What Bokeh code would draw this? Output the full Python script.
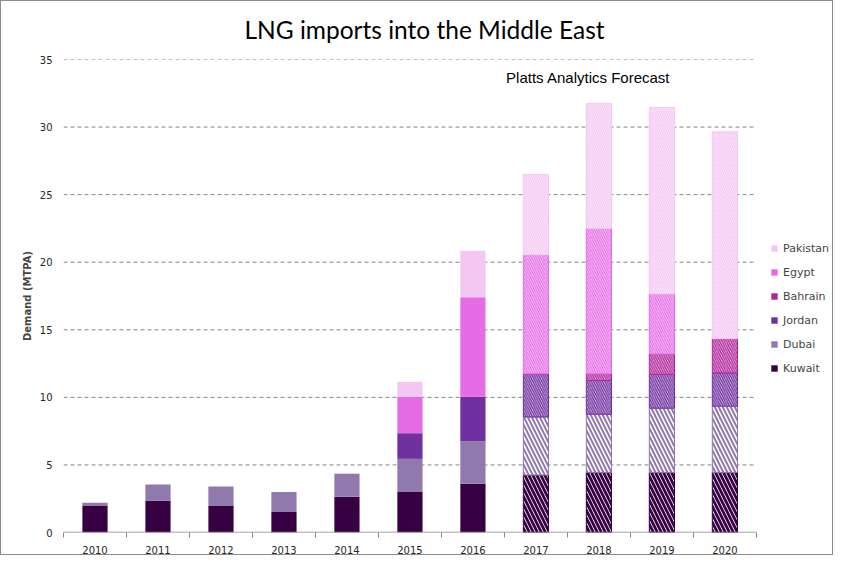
from bokeh.plotting import figure
from bokeh.models import Range1d, FixedTicker, Legend, LegendItem, Label, ColumnDataSource
from bokeh.embed import file_html
from bokeh.resources import INLINE

# ---- data ----
series = ["Kuwait", "Dubai", "Jordan", "Bahrain", "Egypt", "Pakistan"]
colors = ["#360042", "#8f79ad", "#7030a0", "#b2259b", "#e66ce6", "#f4c7f2"]

years_hist = [2010, 2011, 2012, 2013, 2014, 2015, 2016]
kuwait_hist = [2.0, 2.35, 2.0, 1.55, 2.65, 3.0, 3.6]
dubai_hist = [0.2, 1.2, 1.4, 1.45, 1.7, 2.45, 3.15]
jordan_hist = [0, 0, 0, 0, 0, 1.9, 3.3]
bahrain_hist = [0, 0, 0, 0, 0, 0, 0]
egypt_hist = [0, 0, 0, 0, 0, 2.7, 7.35]
pakistan_hist = [0, 0, 0, 0, 0, 1.1, 3.45]

years_fc = [2017, 2018, 2019, 2020]
kuwait_fc = [4.25, 4.45, 4.45, 4.45]
dubai_fc = [4.3, 4.3, 4.75, 4.9]
jordan_fc = [3.2, 2.5, 2.5, 2.45]
bahrain_fc = [0, 0.5, 1.5, 2.55]
egypt_fc = [8.8, 10.75, 4.45, 0]
pakistan_fc = [5.95, 9.25, 13.8, 15.3]

all_years = years_hist + years_fc
y_ticks = [0, 5, 10, 15, 20, 25, 30, 35]

src_hist = ColumnDataSource(dict(year=years_hist, Kuwait=kuwait_hist, Dubai=dubai_hist,
                                 Jordan=jordan_hist, Bahrain=bahrain_hist,
                                 Egypt=egypt_hist, Pakistan=pakistan_hist))
src_fc = ColumnDataSource(dict(year=years_fc, Kuwait=kuwait_fc, Dubai=dubai_fc,
                               Jordan=jordan_fc, Bahrain=bahrain_fc,
                               Egypt=egypt_fc, Pakistan=pakistan_fc))

x_lo = all_years[0] - 0.5
x_hi = all_years[-1] + 0.5

p = figure(width=833, height=555, output_backend="svg", toolbar_location=None,
           x_range=Range1d(x_lo, x_hi + 1.24),
           y_range=Range1d(0, 35),
           min_border_left=62, min_border_right=0, min_border_top=13, min_border_bottom=22)
p.outline_line_color = None
p.styles = {"border": "1px solid #8c8c8c"}

p.title.text = "LNG imports into the Middle East"
p.title.text_font = "Lato"
p.title.text_font_size = "24.5px"
p.title.text_font_style = "normal"
p.title.text_color = "#000000"
p.title.align = "left"
p.title.vertical_align = "top"
p.title.offset = 181
p.title.standoff = 27

# grid lines limited to the category area
p.segment(x0=x_lo, x1=x_hi, y0=y_ticks[1:], y1=y_ticks[1:],
          line_color="#868686", line_dash="4 3", line_width=1)

hist_r = p.vbar_stack(series, x="year", width=0.4, source=src_hist,
                      color=colors, line_color=None)

fc_r = p.vbar_stack(series, x="year", width=0.4, source=src_fc,
                    fill_color="white", line_color=colors, line_width=1,
                    hatch_color=colors, hatch_pattern="\\",
                    hatch_scale=[8, 8, 4.5, 4.5, 4.5, 4.5],
                    hatch_weight=[2.8, 2.0, 1.5, 1.5, 1.5, 1.5])

# baseline
p.segment(x0=[x_lo], x1=[x_hi], y0=[0], y1=[0], line_color="#868686", line_width=1.5)

# axes
xa = p.xaxis[0]
xa.ticker = FixedTicker(ticks=all_years,
                        minor_ticks=[y - 0.5 for y in all_years] + [x_hi])
xa.major_tick_line_color = None
xa.major_tick_out = 0
xa.major_tick_in = 0
xa.minor_tick_line_color = "#868686"
xa.minor_tick_out = 5
xa.minor_tick_in = 0
xa.axis_line_color = None
xa.major_label_text_font = "DejaVu Sans"
xa.major_label_text_font_size = "10px"
xa.major_label_text_color = "#262626"
xa.major_label_standoff = 8

ya = p.yaxis[0]
ya.ticker = FixedTicker(ticks=y_ticks)
ya.axis_line_color = None
ya.major_tick_line_color = None
ya.major_tick_out = 0
ya.major_tick_in = 0
ya.minor_tick_line_color = None
ya.minor_tick_out = 0
ya.major_label_text_font = "DejaVu Sans"
ya.major_label_text_font_size = "10px"
ya.major_label_text_color = "#262626"
ya.major_label_standoff = 11
ya.axis_label = "Demand (MTPA)"
ya.axis_label_text_font = "DejaVu Sans"
ya.axis_label_text_font_style = "bold"
ya.axis_label_text_font_size = "10px"
ya.axis_label_standoff = 4

p.xgrid.grid_line_color = None
p.ygrid.grid_line_color = None

legend = Legend(items=[LegendItem(label=series[i], renderers=[hist_r[i]]) for i in range(5, -1, -1)],
                location=(707, 154), border_line_color=None, background_fill_alpha=0,
                label_text_font="DejaVu Sans", label_text_font_size="11px",
                glyph_width=8, glyph_height=8, label_height=20, spacing=4,
                padding=0, margin=0, label_standoff=5)
p.add_layout(legend, "center")

p.add_layout(Label(x=2017.83, y=33.67, text="Platts Analytics Forecast",
                   text_font="Liberation Sans", text_font_size="15px", text_align="center",
                   text_baseline="middle", text_color="#000000"))

open("out.html", "w").write(file_html(p, INLINE))
